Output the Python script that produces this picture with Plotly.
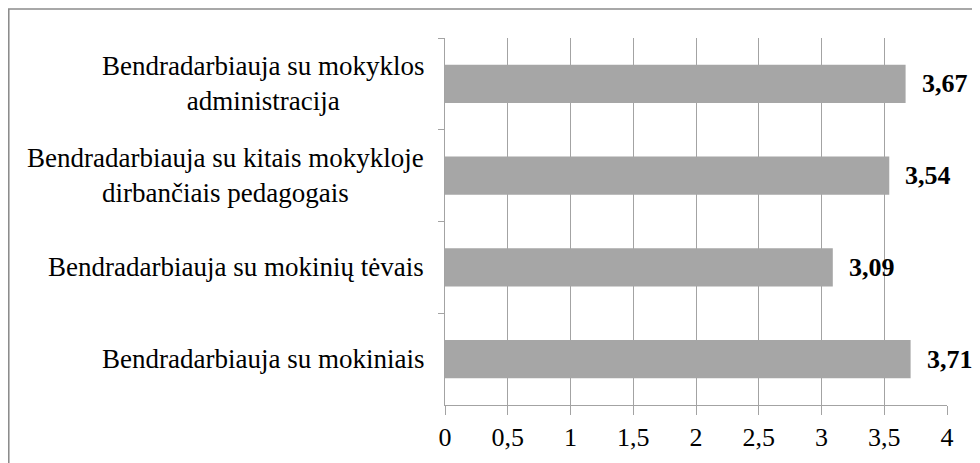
import plotly.graph_objects as go

categories = [
    "Bendradarbiauja su mokyklos<br>administracija",
    "Bendradarbiauja su kitais mokykloje<br>dirbančiais pedagogais",
    "Bendradarbiauja su mokinių tėvais",
    "Bendradarbiauja su mokiniais",
]
values = [3.67, 3.54, 3.09, 3.71]
x_tickvals = [0, 0.5, 1, 1.5, 2, 2.5, 3, 3.5, 4]
x_ticktext = ["0", "0,5", "1", "1,5", "2", "2,5", "3", "3,5", "4"]

FONT = "Liberation Serif, Times New Roman, serif"
GRID = "#a3a3a3"

fig = go.Figure()
fig.add_trace(go.Bar(
    x=values, y=categories, orientation="h",
    marker=dict(color="#a6a6a6", line=dict(width=0)),
    hoverinfo="skip",
))

# category labels (centered multi-line, right-aligned block)
for c in categories:
    fig.add_annotation(
        x=-0.038, xref="paper", y=c, yref="y",
        text=c, showarrow=False, xanchor="right", yanchor="middle",
        align="center", font=dict(family=FONT, size=27, color="black"),
    )

# value labels
for c, v in zip(categories, values):
    fig.add_annotation(
        x=v, xref="x", y=c, yref="y",
        text="<b>" + f"{v:.2f}".replace(".", ",") + "</b>",
        showarrow=False, xanchor="left", yanchor="middle", xshift=14,
        font=dict(family=FONT, size=26, color="black"),
    )

# outer chart frame (cropped at right and bottom)
fig.add_shape(type="rect", xref="paper", yref="paper",
              x0=-0.8690, x1=1.12, y0=-0.25, y1=1.079,
              line=dict(color="#8c8c8c", width=1.6), layer="below")

fig.update_layout(
    width=972, height=455,
    margin=dict(l=437, r=33, t=30, b=58),
    paper_bgcolor="white", plot_bgcolor="white",
    showlegend=False, bargap=0.585,
    separators=", ",
    font=dict(family=FONT, size=26, color="black"),
)
fig.update_xaxes(
    range=[0, 4], tickvals=x_tickvals, ticktext=x_ticktext,
    showgrid=True, gridcolor=GRID, gridwidth=1,
    showline=True, linecolor=GRID, linewidth=1.3,
    ticks="outside", ticklen=9, tickcolor=GRID, tickwidth=1.3,
    tickfont=dict(family=FONT, size=26, color="black"),
    zeroline=False, fixedrange=True,
)
fig.update_yaxes(
    type="category", autorange="reversed",
    showticklabels=False, showgrid=False,
    showline=True, linecolor=GRID, linewidth=1.3,
    ticks="outside", ticklen=6, tickcolor=GRID, tickwidth=1.3,
    tickson="boundaries", fixedrange=True,
)

fig.write_html("out.html")
